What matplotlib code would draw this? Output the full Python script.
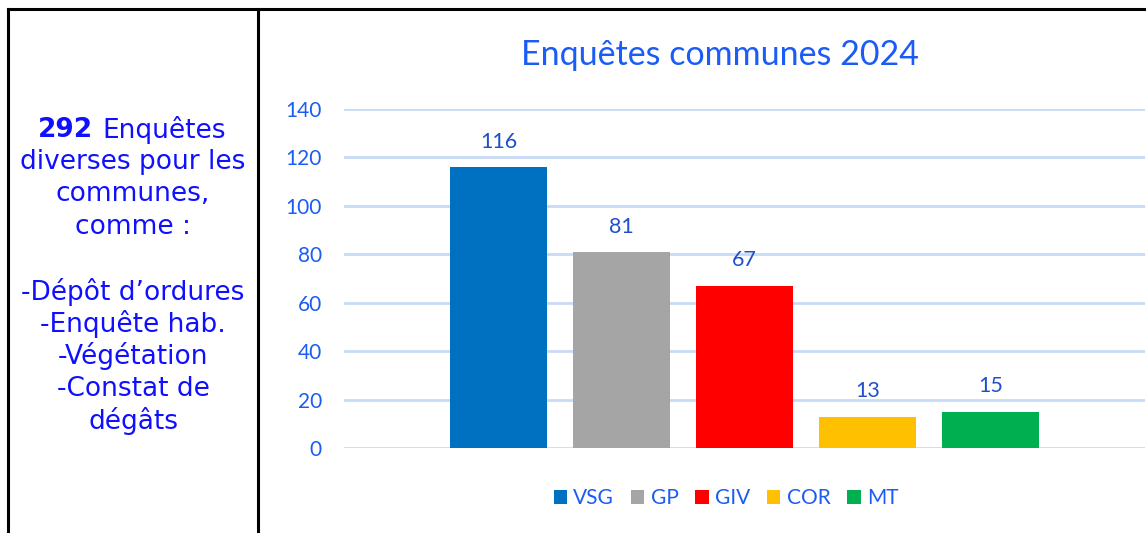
import matplotlib
matplotlib.use('Agg')
import matplotlib.pyplot as plt
from matplotlib.lines import Line2D
from matplotlib.patches import Patch

series = ["VSG", "GP", "GIV", "COR", "MT"]
valeurs = [116, 81, 67, 13, 15]
couleurs = ["#0070C0", "#A5A5A5", "#FF0000", "#FFC000", "#00B050"]
graduations = [0, 20, 40, 60, 80, 100, 120, 140]
titre = "Enquêtes communes 2024"
lignes_gauche = ["diverses pour les", "communes,", "comme :", "",
                 "-Dépôt d\u2019ordures", "-Enquête hab.", "-Végétation",
                 "-Constat de", "dégâts"]

W, H = 1146, 533
fig = plt.figure(figsize=(W / 100, H / 100), dpi=100)
fig.patch.set_facecolor("white")

bleu_axe = "#1A5CF5"
bleu_label = "#1F4FCF"
bleu_texte = "#1010FF"

# cadre du tableau
def px(x, y):
    return x / W, 1 - y / H

for (x0, y0), (x1, y1) in [((8, 9), (1146, 9)), ((8, 9), (8, 533)), ((258, 9), (258, 533))]:
    a, b = px(x0, y0)
    c, d = px(x1, y1)
    fig.add_artist(Line2D([a, c], [b, d], color="black", lw=2.2))

# texte de gauche
taille = 19
x, y = px(93, 130)
fig.text(x, y, "292", ha="right", va="center", color=bleu_texte, fontsize=taille,
         fontweight="bold", family="DejaVu Sans")
x, y = px(102, 130)
fig.text(x, y, "Enquêtes", ha="left", va="center", color=bleu_texte, fontsize=taille,
         family="DejaVu Sans")
for i, ligne in enumerate(lignes_gauche):
    x, y = px(133, 162 + i * 32.4)
    fig.text(x, y, ligne, ha="center", va="center", color=bleu_texte, fontsize=taille,
             family="DejaVu Sans")

# graphique
ax = fig.add_axes([344 / W, 1 - 448 / H, (1145 - 344) / W, (448 - 109) / H])
positions = list(range(len(series)))
barres = ax.bar(positions, valeurs, width=0.79, color=couleurs, zorder=3)
ax.set_xlim(-1.256, 5.256)
ax.set_ylim(0, 140)
ax.set_yticks(graduations)
ax.set_xticks([])
ax.grid(axis="y", color="#C8DBF6", lw=2, zorder=0)
for s in ax.spines.values():
    s.set_visible(False)
ax.tick_params(axis="y", length=0, pad=16, labelsize=15, labelcolor=bleu_axe)
for lab in ax.get_yticklabels():
    lab.set_family("Lato")

for b, v in zip(barres, valeurs):
    ax.annotate(str(v), (b.get_x() + b.get_width() / 2, v), xytext=(0, 11),
                textcoords="offset points", ha="center", va="bottom",
                color=bleu_label, fontsize=15.5, family="Lato")

x, y = px(720, 55)
fig.text(x, y, titre, ha="center", va="center", color=bleu_axe, fontsize=24.5, family="Lato")

poignees = [Patch(facecolor=c, label=s) for s, c in zip(series, couleurs)]
x, y = px(726, 498)
leg = fig.legend(handles=poignees, loc="center", bbox_to_anchor=(x, y), ncol=5,
                 frameon=False, handlelength=0.65, handleheight=0.65,
                 handletextpad=0.3, columnspacing=0.8,
                 prop={"family": "Lato", "size": 15})
for t in leg.get_texts():
    t.set_color(bleu_axe)

fig.savefig("out.png", dpi=100)
